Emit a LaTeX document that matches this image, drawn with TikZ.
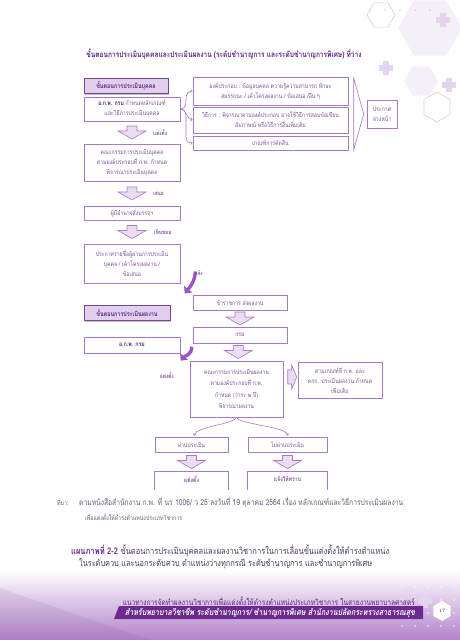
\documentclass[tikz,border=0pt]{standalone}
\usepackage{fontspec}
\usepackage{graphicx}
\newfontfamily\thai[Script=Thai,FakeStretch=0.82]{Loma}
\newfontfamily\thaisl[Script=Thai,FakeStretch=0.82,FakeSlant=0.18]{Loma}
\usetikzlibrary{calc,arrows.meta,shadows}
\definecolor{pline}{HTML}{A979C6}
\definecolor{ptext}{HTML}{8052A0}
\definecolor{pdark}{HTML}{5B2682}
\definecolor{pfill}{HTML}{EADDF2}
\definecolor{phead}{HTML}{E2CFEE}
\definecolor{psolid}{HTML}{9B55C0}
\definecolor{pband}{HTML}{6B2A8E}
\definecolor{pnote}{HTML}{6F5A7C}
\definecolor{pcap}{HTML}{4E3B5C}
\definecolor{decofill}{HTML}{F4EFF8}
\definecolor{decoline}{HTML}{DCCCE7}
\definecolor{decoplus}{HTML}{E4D5EE}
\definecolor{bgpurple}{HTML}{B282CB}
\newcommand\bt{\thai\fontsize{6.3}{10}\selectfont}
\newcommand\fitto[2]{\resizebox{#1pt}{!}{#2}}
\newcommand\hexF[3]{(#1,#2) ++(0:#3) -- ++(120:#3) -- ++(180:#3) -- ++(240:#3) -- ++(300:#3) -- ++(0:#3) -- cycle}
\newcommand\hexP[3]{(#1,#2) ++(90:#3) -- ++(210:#3) -- ++(270:#3) -- ++(330:#3) -- ++(30:#3) -- ++(90:#3) -- cycle}
\newcommand\plusS[2]{\fill[decoplus] ({#1-2.6},{#2-7}) rectangle ({#1+2.6},{#2+7}); \fill[decoplus] ({#1-7},{#2-2.6}) rectangle ({#1+7},{#2+2.6});}
\tikzset{
  box/.style={draw=pline, line width=0.6pt, fill=white, text=ptext, font=\bt, align=center, inner sep=0.5pt},
  headbox/.style={draw=pdark!85, line width=0.8pt, fill=phead, text=pdark, font=\thai\bfseries\fontsize{6.6}{8}\selectfont, inner sep=0.5pt, drop shadow={shadow xshift=1.2pt, shadow yshift=-1.2pt, fill=black!40, opacity=0.6}},
  lbl/.style={text=ptext, font=\thai\bfseries\fontsize{5.8}{6}\selectfont, anchor=west, inner sep=0pt},
  blockarr/.style={draw=pline, line width=0.6pt, fill=pfill},
  bracel/.style={draw=pline, line width=0.6pt, -{Straight Barb[length=1.6pt,width=3.2pt]}},
  solidarr/.style={draw=psolid, line width=3.4pt, -{Triangle[length=5.5pt, width=10pt]}},
  darr/.pic={\path[blockarr] (-5,-6.5) -- (5,-6.5) -- (5,-1.5) -- (14,-1.5) -- (0,6.5) -- (-14,-1.5) -- (-5,-1.5) -- cycle;},
}
\begin{document}
\begin{tikzpicture}[x=1pt,y=-1pt]
\useasboundingbox (0,0) rectangle (460,640);
% ---------- background ----------
\fill[white] (0,0) rectangle (460,640);
\shade[top color=white, bottom color=bgpurple] (0,570) rectangle (460,640);
\fill[bgpurple!70!black, opacity=0.12] (0,588) -- (150,640) -- (0,640) -- cycle;
\fill[decofill] \hexF{430}{28}{32};
\fill[decofill] \hexF{421}{81}{17};
\draw[decoline, line width=0.6pt] \hexF{381}{15}{14};
\draw[decoline, line width=0.6pt] \hexP{437}{107}{15};
\plusS{443}{20}
\plusS{386}{68}
\plusS{449}{85}
\foreach \x in {370,385,...,430} \fill[decoline] (\x,10) circle (0.9);
\foreach \x in {402,415,428,441,454} \foreach \y in {548,561,...,637} \fill[white, opacity=0.55] (\x,\y) circle (1.1);
\plusS{425}{601}
% ---------- title ----------
\node[inner sep=0, text=pdark] (title) at (224,54) {\fitto{275}{\thai\bfseries\fontsize{7}{8}\selectfont ขั้นตอนการประเมินบุคคลและประเมินผลงาน (ระดับชำนาญการ และระดับชำนาญการพิเศษ) ที่ว่าง}};
% ---------- part 1 ----------
\node[headbox, minimum width=84, minimum height=15] (h1) at (126,86) {ขั้นตอนการประเมินบุคคล};
\node[box, minimum width=96, minimum height=24] (b1) at (132,109) {\textbf{\color{pdark}อ.ก.พ. กรม} กำหนดหลักเกณฑ์\\และวิธีการประเมินบุคคล};
\node[box, minimum width=155, minimum height=28] (r1) at (270.5,91) {องค์ประกอบ : ข้อมูลบุคคล ความรู้ความสามารถ ทักษะ\\สมรรถนะ / เค้าโครงผลงาน / ข้อเสนอ /อื่น ๆ};
\node[box, minimum width=155, minimum height=26] (r2) at (270.5,120) {วิธีการ : พิจารณาตามองค์ประกอบ อาจใช้วิธีการสอบข้อเขียน\\สัมภาษณ์ หรือวิธีการอื่นเพิ่มเติม};
\node[box, minimum width=155, minimum height=14] (r3) at (270.5,143) {เกณฑ์การตัดสิน};
\node[box, minimum width=30, minimum height=28] (pk) at (382,114) {ประกาศ\\ล่วงหน้า};
\draw[pline, line width=0.6pt, fill=white] ($(pk.west)+(-13,-36)$) -- ($(pk.west)+(-3,0)$) -- ($(pk.west)+(-13,36)$) -- cycle;
\draw[bracel] ($(b1.east)+(1,0)$) .. controls (186,108) and (186,104) .. (186,99) .. controls (186,94) and (188,91) .. (r1.west);
\draw[bracel] ($(b1.east)+(1,0)$) .. controls (186,110) and (187,119) .. (r2.west);
\draw[bracel] ($(b1.east)+(1,0)$) .. controls (186,110) and (186,114) .. (186,119) -- (186,137) .. controls (186,141) and (188,143) .. (r3.west);
\node[box, minimum width=96, minimum height=37] (b2) at (132,162.5) {คณะกรรมการประเมินบุคคล\\ตามองค์ประกอบที่ ก.พ. กำหนด\\พิจารณาประเมินบุคคล};
\node[box, minimum width=96, minimum height=14] (b3) at (132,213) {ผู้มีอำนาจสั่งบรรจุฯ};
\node[box, minimum width=96, minimum height=39] (b4) at (132,263.5) {ประกาศรายชื่อผู้ผ่านการประเมิน\\บุคคล / เค้าโครงผลงาน /\\ข้อเสนอ};
\pic at ($(b1.south)!0.5!(b2.north)$) {darr};
\pic at ($(b2.south)!0.5!(b3.north)$) {darr};
\pic at ($(b3.south)!0.5!(b4.north)$) {darr};
\node[lbl] (l1) at ($(b1.south)!0.5!(b2.north)+(21,0)$) {แต่งตั้ง};
\node[lbl] (l2) at ($(b2.south)!0.5!(b3.north)+(21,0)$) {เสนอ};
\node[lbl] (l3) at ($(b3.south)!0.5!(b4.north)+(22,0)$) {เห็นชอบ};
% ---------- part 2 ----------
\node[box, minimum width=94, minimum height=15] (c3) at (240,302.5) {ข้าราชการ ส่งผลงาน};
\node[headbox, minimum width=86, minimum height=15] (h2) at (127,313) {ขั้นตอนการประเมินผลงาน};
\node[box, minimum width=94, minimum height=16] (c4) at (240,335) {กรม};
\node[box, minimum width=96, minimum height=16] (b5) at (132,345) {\textbf{\color{pdark}อ.ก.พ. กรม}};
\node[box, minimum width=93, minimum height=56, font=\thai\fontsize{6.3}{11.5}\selectfont] (c5) at (236.5,389) {คณะกรรมการประเมินผลงาน\\ตามองค์ประกอบที่ ก.พ.\\กำหนด (วาระ ๒ ปี)\\พิจารณาผลงาน};
\node[box, minimum width=84, minimum height=36] (c6) at (340,380) {ตามเกณฑ์ที่ ก.พ. และ\\คกก. ประเมินผลงาน กำหนด\\เพิ่มเติม};
\pic at ($(c3.south)!0.5!(c4.north)$) {darr};
\pic at ($(c4.south)!0.5!(c5.north)$) {darr};
\path[blockarr] ($(c6.west)+(-10,-10)$) -- ($(c6.west)+(-6,-10)$) -- ($(c6.west)+(-6,-15)$) -- ($(c6.west)+(-1,-3)$) -- ($(c6.west)+(-6,9)$) -- ($(c6.west)+(-6,4)$) -- ($(c6.west)+(-10,4)$) -- cycle;
\coordinate (s1a) at ($(b4.east)+(15,8)$);
\coordinate (s1b) at ($(c3.west)+(-8,-9)$);
\draw[solidarr] (s1a) .. controls +(0,10) and +(4,-5) .. (s1b);
\node[lbl] (l4) at ($(b4.east)+(14,10)$) {แจ้ง};
\coordinate (s2a) at ($(c5.north west)+(2,-14)$);
\coordinate (s2b) at ($(c5.north west)+(-9,0)$);
\draw[solidarr] (s2a) .. controls +(0,9) and +(4,-5) .. (s2b);
\node[lbl] (l5) at ($(c5.north west)+(-30,15)$) {แต่งตั้ง};
\node[box, minimum width=73, minimum height=15] (d1) at (191.5,444.5) {ผ่านประเมิน};
\node[box, minimum width=79, minimum height=15] (d2) at (287.5,444.5) {ไม่ผ่านประเมิน};
\draw[bracel] (c5.south) .. controls +(-2,7) and +(0,-9) .. ($(d1.north)+(3,-1)$);
\draw[bracel] (c5.south) .. controls +(2,7) and +(0,-9) .. ($(d2.north)+(0,-1)$);
\node[box, draw=none, minimum width=73, minimum height=14, font=\thai\bfseries\fontsize{6.3}{8}\selectfont] (e1) at (191.5,479) {แต่งตั้ง};
\node[box, draw=none, minimum width=79, minimum height=14, font=\thai\bfseries\fontsize{6.3}{8}\selectfont] (e2) at (287.5,479) {แจ้งให้ทราบ};
\draw[pline, line width=0.6pt] ($(e1.south west)+(0,4)$) |- (e1.north east) -- ($(e1.south east)+(0,4)$);
\draw[pline, line width=0.6pt] ($(e2.south west)+(0,4)$) |- (e2.north east) -- ($(e2.south east)+(0,4)$);
\pic at ($(d1.south)!0.5!(e1.north)$) {darr};
\pic at ($(d2.south)!0.5!(e2.north)$) {darr};
% ---------- note ----------
\node[anchor=west, inner sep=0, text=pnote] (n0) at (57,502) {\thai\fontsize{6.4}{7}\selectfont ที่มา:};
\node[anchor=west, inner sep=0, text=pnote] (n1) at (79,502) {\fitto{324}{\thai\fontsize{6.4}{7}\selectfont ตามหนังสือสำนักงาน ก.พ. ที่ นร 1006/ ว 25 ลงวันที่ 19 ตุลาคม 2564 เรื่อง หลักเกณฑ์และวิธีการประเมินผลงาน}};
\node[anchor=west, inner sep=0, text=pnote] (n2) at (85,517) {\thai\fontsize{6.4}{7}\selectfont เพื่อแต่งตั้งให้ดำรงตำแหน่งประเภทวิชาการ};
% ---------- caption ----------
\node[anchor=west, inner sep=0, text=pcap] (cap1) at (71,551) {\fitto{318}{\thai\fontsize{8}{9}\selectfont {\bfseries\color{pband}แผนภาพที่ 2-2} ขั้นตอนการประเมินบุคคลและผลงานวิชาการในการเลื่อนขั้นแต่งตั้งให้ดำรงตำแหน่ง}};
\node[anchor=west, inner sep=0, text=pcap] (cap2) at (79,564) {\fitto{293}{\thai\fontsize{8}{9}\selectfont ในระดับควบ และนอกระดับควบ ตำแหน่งว่างทุกกรณี ระดับชำนาญการ และชำนาญการพิเศษ}};
% ---------- footer ----------
\node[anchor=east, inner sep=0, text=pdark] (ft1) at (415,601) {\fitto{292}{\thai\fontsize{6}{7}\selectfont แนวทางการจัดทำผลงานวิชาการเพื่อแต่งตั้งให้ดำรงตำแหน่งประเภทวิชาการ ในสายงานพยาบาลศาสตร์}};
\fill[pband] (119,606) -- (423,606) -- (423,619) -- (114,619) -- cycle;
\node[inner sep=0, text=white] (ft2) at (270,612.5) {\fitto{290}{\thaisl\bfseries\fontsize{6}{7}\selectfont สำหรับพยาบาลวิชาชีพ ระดับชำนาญการ/ ชำนาญการพิเศษ สำนักงานปลัดกระทรวงสาธารณสุข}};
\fill[white] \hexP{442}{611}{10};
\node[inner sep=0, text=pdark, font=\fontsize{5}{6}\selectfont] (pg) at (442,611) {17};
\end{tikzpicture}
\end{document}
